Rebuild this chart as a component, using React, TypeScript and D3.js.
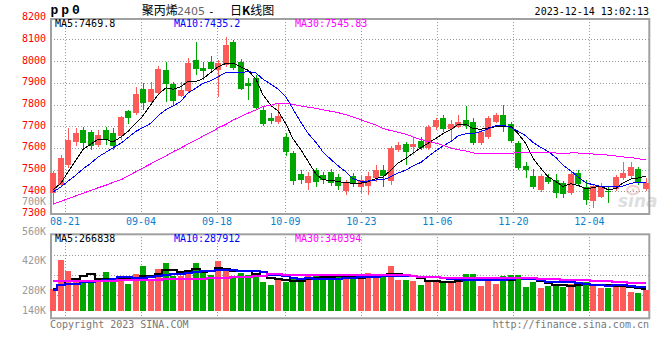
import React from "react";
import * as d3 from "d3";

// ---------- data ----------
const dates = [
  "08-17","08-18","08-21","08-22","08-23","08-24","08-25","08-28","08-29","08-30","08-31",
  "09-01","09-04","09-05","09-06","09-07","09-08","09-11","09-12","09-13","09-14","09-15","09-18","09-19","09-20","09-21","09-22","09-25","09-26","09-27","09-28",
  "10-09","10-10","10-11","10-12","10-13","10-16","10-17","10-18","10-19","10-20","10-23","10-24","10-25","10-26","10-27","10-30","10-31",
  "11-01","11-02","11-03","11-06","11-07","11-08","11-09","11-10","11-13","11-14","11-15","11-16","11-17","11-20","11-21","11-22","11-23","11-24","11-27","11-28","11-29","11-30",
  "12-01","12-04","12-05","12-06","12-07","12-08","12-11","12-12","12-13","12-14",
];

const open = [
  7392,7429,7521,7627,7682,7673,7613,7682,7669,7655,
  7770,7759,7870,7813,7852,7959,7894,7841,7862,8005,
  7970,7994,7959,7982,8087,7997,7900,7923,7775,7739,
  7719,7650,7576,7480,7437,7498,7475,7489,7466,7403,
  7470,7420,7424,7461,7498,7449,7590,7617,7606,7633,
  7598,7698,7736,7686,7698,7729,7721,7621,7649,7721,
  7752,7710,7621,7517,7470,7406,7465,7452,7437,7394,
  7486,7421,7357,7375,7403,7409,7460,7470,7503,7409,
];
const high = [
  7494,7567,7692,7692,7696,7682,7682,7696,7692,7747,
  7775,7879,7898,7905,7977,7997,7905,7905,8013,8087,
  7997,8023,8005,8110,8097,8010,7921,7936,7788,7761,
  7805,7669,7586,7498,7489,7507,7489,7503,7480,7452,
  7484,7475,7489,7521,7521,7609,7629,7629,7652,7652,
  7706,7736,7752,7729,7752,7793,7736,7687,7747,7761,
  7798,7719,7632,7536,7501,7480,7480,7480,7447,7489,
  7498,7452,7434,7437,7424,7475,7536,7536,7512,7463,
];
const low = [
  7337,7420,7507,7609,7590,7590,7604,7613,7590,7636,
  7710,7752,7775,7802,7844,7813,7798,7835,7853,7936,
  7913,7951,7836,7973,7959,7867,7821,7779,7701,7710,
  7710,7563,7429,7434,7406,7421,7434,7424,7406,7383,
  7420,7392,7383,7443,7418,7429,7581,7521,7567,7590,
  7590,7682,7675,7629,7692,7686,7613,7613,7641,7715,
  7675,7623,7498,7460,7411,7397,7434,7368,7368,7383,
  7424,7337,7322,7369,7347,7401,7452,7461,7429,7401,
];
const close = [
  7484,7553,7636,7669,7623,7609,7659,7636,7609,7741,
  7736,7848,7808,7870,7964,7893,7817,7867,7990,7964,
  7956,7964,7991,8074,7967,7870,7887,7785,7710,7724,
  7747,7581,7447,7452,7470,7443,7452,7438,7424,7437,
  7438,7452,7470,7498,7470,7598,7613,7580,7617,7598,
  7698,7729,7686,7710,7721,7701,7624,7675,7736,7752,
  7706,7633,7506,7498,7418,7470,7444,7391,7388,7480,
  7434,7360,7424,7418,7398,7467,7486,7513,7444,7437,
];
// volume, thousands of lots
const volumeK = [
  275,632,496,373,386,386,355,484,386,386,
  336,459,558,392,521,595,426,435,509,595,
  463,447,619,488,414,463,447,463,361,324,
  382,355,414,373,426,447,425,413,419,407,
  407,407,472,407,447,558,386,386,373,324,
  386,386,345,373,373,459,459,312,373,336,
  435,447,447,300,361,287,312,324,291,330,
  330,361,315,287,287,312,324,238,226,256,
];

// moving-average values before a full window exists
const priceMa5Head = [7406, 7438, 7489, 7544];
const priceMa10Head = [7397, 7420, 7447, 7475, 7503, 7530, 7558, 7580, 7600];
const priceMa30Head = [
  7342,7354,7366,7379,7391,7404,7416,7428,7441,7453,
  7471,7490,7508,7527,7545,7563,7582,7600,7618,7636,
  7654,7673,7691,7709,7728,7744,7760,7775,7791,
];
const volMa5Head = [271, 320, 363, 394];
const volMa10Head = [264, 320, 328, 328, 351, 357, 365, 381, 394];
const volMa30Head = [
  375,375,375,375,375,375,375,375,375,380,
  380,380,380,380,380,388,388,388,388,388,
  394,400,405,410,415,420,424,428,432,
];

const tickDates = ["08-21","09-04","09-18","10-09","10-23","11-06","11-20","12-04"];
const priceTicks = [8200, 8100, 8000, 7900, 7800, 7700, 7600, 7500, 7400, 7300];
const priceGrid = [8100, 8000, 7900, 7800, 7700, 7600, 7500, 7400];
const volumeTicksK = [700, 560, 420, 280, 140];
const priceMaText = ["MA5:7469.8", "MA10:7435.2", "MA30:7545.83"];
const volumeMaText = ["MA5:266838", "MA10:287912", "MA30:340394"];
const maWindows = [5, 10, 30];

// ---------- styling ----------
const MONO = "'DejaVu Sans Mono', 'Liberation Mono', monospace";
const CJK = "'Noto Sans CJK SC', sans-serif";
const UP = "#ff5a5a";
const DOWN = "#00a600";
const MA_COLORS = ["#000000", "#0000ff", "#ff00ff"];
const GRID = "#999999";
const BORDER = "#a0a0a0";

function movingAverage(values: number[], n: number, head: number[]) {
  return values.map((_, i) =>
    i < n - 1 ? head[i] : (d3.mean(values.slice(i - n + 1, i + 1)) as number)
  );
}

export default function App() {
  const idx = dates.map((_, i) => i);
  const xBand = d3.scaleBand<number>().domain(idx).range([50, 648.5]).paddingInner(0.2).paddingOuter(0);
  const bw = Math.round(xBand.bandwidth());
  const left = (i: number) => Math.round(xBand(i) as number);
  const cx = (i: number) => left(i) + bw / 2;
  const xGrid = d3.scaleLinear().domain([0, dates.length - 1]).range([49.8, 650.2]);

  const y = d3.scaleLinear().domain([7300, 8100]).range([213, 39.4]);
  const volBase = 311;
  const vy = d3.scaleLinear().domain([0, 1000]).range([volBase, volBase - 1000 / 12.3]);
  const vLabel = d3.scaleLinear().domain([280, 560]).range([290.5, 231]);

  const mainTop = 19, mainBottom = 214, volTop = 234.3, volBottom = 318.3;
  const L = 51, R = 649.3;

  const priceMAs = [
    movingAverage(close, 5, priceMa5Head),
    movingAverage(close, 10, priceMa10Head),
    movingAverage(close, 30, priceMa30Head),
  ];
  const volMAs = [
    movingAverage(volumeK, 5, volMa5Head),
    movingAverage(volumeK, 10, volMa10Head),
    movingAverage(volumeK, 30, volMa30Head),
  ];

  const priceLine = d3.line<number>().x((_, i) => cx(i)).y((d) => y(d));
  const volLine = d3.line<number>().x((_, i) => cx(i)).y((d) => vy(d)).curve(d3.curveStep);

  const gridIdx = tickDates.map((t) => dates.indexOf(t));

  return (
    <svg
      width={660}
      height={360}
      style={{ position: "absolute", left: 0, top: 0, display: "block", background: "#fff" }}
      fontFamily={MONO}
    >
      <rect x={0} y={0} width={660} height={360} fill="#fff" />

      {/* gridlines */}
      <g stroke={GRID} strokeWidth={1} strokeDasharray="1,2" shapeRendering="crispEdges">
        {priceGrid.map((p) => (
          <line key={"pg" + p} x1={L} x2={R} y1={Math.round(y(p)) + 0.5} y2={Math.round(y(p)) + 0.5} />
        ))}
        {[255, 275, 295].map((yy) => (
          <line key={"vg" + yy} x1={L} x2={R} y1={yy + 0.5} y2={yy + 0.5} />
        ))}
        {gridIdx.map((gi) => (
          <g key={"xg" + gi}>
            <line x1={Math.round(xGrid(gi)) + 0.5} x2={Math.round(xGrid(gi)) + 0.5} y1={mainTop} y2={mainBottom} />
            <line x1={Math.round(xGrid(gi)) + 0.5} x2={Math.round(xGrid(gi)) + 0.5} y1={volTop} y2={volBottom + 2} />
          </g>
        ))}
      </g>

      {/* watermark */}
      <g opacity={0.45}>
        <ellipse cx={633} cy={190} rx={6} ry={4} fill="none" stroke="#e09090" strokeWidth={2} />
        <circle cx={633} cy={190} r={1.5} fill="#e09090" />
        <text x={618} y={207} fontFamily="'DejaVu Sans', sans-serif" fontStyle="italic" fontWeight="bold" fontSize={17} fill="#b8b8b8">
          sina
        </text>
      </g>

      {/* panel borders */}
      <g fill="none" stroke={BORDER} strokeWidth={2}>
        <rect x={L} y={mainTop} width={R - L} height={mainBottom - mainTop} />
        <rect x={L} y={volTop} width={R - L} height={volBottom - volTop} />
      </g>

      {/* candles */}
      <g shapeRendering="crispEdges">
        {idx.map((i) => {
          const up = close[i] >= open[i];
          const col = up ? UP : DOWN;
          const top = Math.round(y(Math.max(open[i], close[i])));
          const bot = Math.round(y(Math.min(open[i], close[i])));
          const hi = Math.round(y(high[i]));
          const lo = Math.round(y(low[i]));
          return (
            <g key={"c" + i} fill={col}>
              <rect x={left(i) + 3} y={hi} width={1} height={Math.max(1, lo - hi)} />
              <rect x={left(i)} y={top} width={bw} height={Math.max(1, bot - top)} />
            </g>
          );
        })}
      </g>

      {/* price MAs */}
      <g fill="none" strokeWidth={1} shapeRendering="crispEdges">
        {priceMAs.map((ma, k) => (
          <path key={"pm" + k} d={priceLine(ma) as string} stroke={MA_COLORS[k]} />
        ))}
      </g>

      {/* volume bars */}
      <g shapeRendering="crispEdges">
        {idx.map((i) => {
          const up = close[i] >= open[i];
          const t = Math.round(vy(volumeK[i]));
          return <rect key={"v" + i} x={left(i)} y={t} width={bw} height={volBase - t} fill={up ? UP : DOWN} />;
        })}
      </g>

      {/* volume MAs */}
      <g fill="none" strokeWidth={2} shapeRendering="crispEdges">
        {volMAs.map((ma, k) => (
          <path key={"vm" + k} d={volLine(ma) as string} stroke={MA_COLORS[k]} />
        ))}
      </g>

      {/* header */}
      <text x={50.5} y={13.5} fontFamily="'Liberation Mono', monospace" fontWeight="bold" fontSize={13} letterSpacing={3} fill="#000">
        pp0
      </text>
      <text x={141.7} y={15} fontFamily={CJK} fontSize={12} fill="#000">聚丙烯</text>
      <text x={177} y={15} fontFamily="'DejaVu Sans', sans-serif" fontSize={11} fill="#666">2405</text>
      <text x={208} y={15} fontFamily={MONO} fontSize={11} fill="#000">-</text>
      <text x={230} y={15} fontFamily={CJK} fontSize={12} fill="#000">
        日<tspan fontWeight="bold">K</tspan>线图
      </text>
      <text x={649} y={15} textAnchor="end" fontSize={10} fill="#000">2023-12-14 13:02:13</text>

      {/* MA legends */}
      {priceMaText.map((t, k) => (
        <text key={"pt" + k} x={[55, 174, 295][k]} y={26.5} fontSize={10} fill={MA_COLORS[k]}>
          {t}
        </text>
      ))}
      {volumeMaText.map((t, k) => (
        <text key={"vt" + k} x={[55, 174, 295][k]} y={241.5} fontSize={10} fill={MA_COLORS[k]}>
          {t}
        </text>
      ))}

      {/* price axis labels */}
      {priceTicks.map((p) => (
        <text key={"pl" + p} x={46} y={y(p) - 1} dy="0.35em" textAnchor="end" fontSize={10} fill="#ff0000">
          {p}
        </text>
      ))}

      {/* volume axis labels */}
      {volumeTicksK.map((v) => (
        <text key={"vl" + v} x={46} y={Math.min(vLabel(v), 310.5)} dy="0.35em" textAnchor="end" fontSize={10} fill="#999">
          {v + "K"}
        </text>
      ))}

      {/* date labels */}
      {gridIdx.map((gi, k) => (
        <text key={"d" + gi} x={xGrid(gi)} y={225} textAnchor="middle" fontSize={10} fill="#0a7fd0">
          {tickDates[k]}
        </text>
      ))}

      {/* footer */}
      <text x={50} y={327.5} fontSize={10} fill="#777">Copyright 2023 SINA.COM</text>
      <text x={649} y={327.5} textAnchor="end" fontSize={10} fill="#777">http://finance.sina.com.cn</text>
    </svg>
  );
}
